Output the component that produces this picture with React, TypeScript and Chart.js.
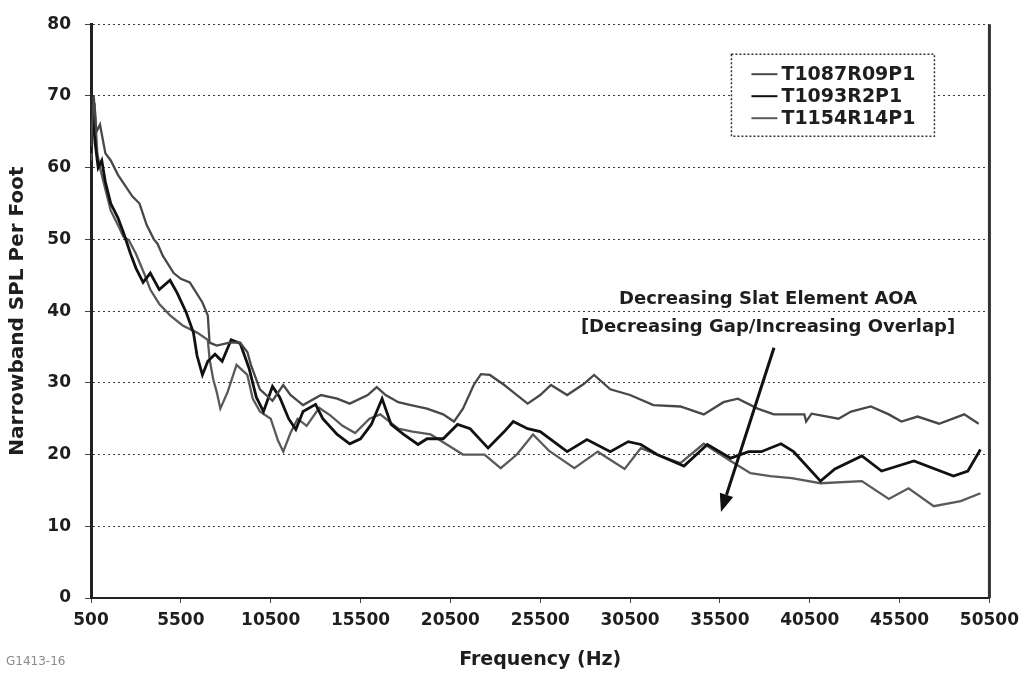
import { useEffect, useRef } from "react";
import { Chart, registerables } from "chart.js";

Chart.register(...registerables);

const FONT = "'DejaVu Sans', 'Liberation Sans', sans-serif";
const INK = "#1e1e1e";

// Frequency axis ticks (Hz) and SPL axis ticks (dB)
const freqTicks = [500, 5500, 10500, 15500, 20500, 25500, 30500, 35500, 40500, 45500, 50500];
const splTicks = [0, 10, 20, 30, 40, 50, 60, 70, 80];

const seriesNames = ["T1087R09P1", "T1093R2P1", "T1154R14P1"];

// [frequency Hz, narrowband SPL per foot]
const t1087: [number, number][] = [
  [500, 63], [650, 70], [800, 65], [1000, 66], [1300, 62], [1600, 61], [2000, 59], [2400, 57.5],
  [2800, 56], [3200, 55], [3600, 52], [4000, 50], [4200, 49.4], [4500, 47.7], [5100, 45.3],
  [5500, 44.5], [6000, 44], [6700, 41.2], [7000, 39.4], [7100, 35.6], [7500, 35.2], [8200, 35.6],
  [8800, 35.6], [9200, 34.3], [9400, 32.5], [9900, 29.1], [10600, 27.5], [11200, 29.7],
  [11600, 28.3], [12300, 26.9], [13300, 28.3], [14200, 27.8], [14900, 27.1], [15900, 28.3],
  [16400, 29.4], [16900, 28.3], [17600, 27.3], [18300, 26.9], [19200, 26.4], [20100, 25.6],
  [20700, 24.6], [21200, 26.4], [21800, 29.7], [22200, 31.2], [22700, 31.1], [23500, 29.7],
  [24100, 28.5], [24800, 27.1], [25500, 28.3], [26100, 29.7], [27000, 28.3], [27900, 29.8],
  [28500, 31.1], [29400, 29.1], [30500, 28.3], [31800, 26.9], [33300, 26.7], [34600, 25.6],
  [35700, 27.3], [36500, 27.8], [37600, 26.4], [38500, 25.6], [40200, 25.6], [40300, 24.6],
  [40600, 25.7], [42100, 25.0], [42800, 26.0], [43900, 26.7], [44900, 25.6], [45600, 24.6],
  [46500, 25.3], [47700, 24.3], [49100, 25.6], [49900, 24.3],
];

const t1093: [number, number][] = [
  [500, 62], [600, 68], [750, 63], [900, 60], [1100, 61], [1300, 58], [1600, 55], [2000, 53],
  [2300, 51], [2700, 48], [3000, 46], [3400, 44], [3800, 45.3], [4300, 43], [4900, 44.3],
  [5300, 42.5], [5800, 39.8], [6200, 37], [6400, 33.8], [6700, 31.1], [7000, 33], [7400, 34],
  [7800, 33], [8300, 36], [8800, 35.5], [9300, 32], [9700, 28], [10100, 26], [10600, 29.5],
  [11000, 28], [11500, 25], [11900, 23.5], [12300, 26], [13000, 27], [13400, 25], [14200, 22.8],
  [14900, 21.5], [15500, 22.2], [16100, 24.2], [16700, 27.8], [17200, 24.2], [17900, 22.8],
  [18700, 21.4], [19200, 22.2], [20100, 22.2], [20900, 24.2], [21600, 23.6], [22600, 20.9],
  [23500, 23.2], [24000, 24.6], [24800, 23.6], [25500, 23.2], [27000, 20.4], [28100, 22.1],
  [29400, 20.4], [30400, 21.8], [31100, 21.4], [32000, 20], [33500, 18.4], [34800, 21.4],
  [36100, 19.5], [37100, 20.4], [37800, 20.4], [38900, 21.5], [39600, 20.4], [41100, 16.3],
  [41900, 18], [43400, 19.8], [44500, 17.7], [46300, 19.1], [48500, 17], [49300, 17.7],
  [50000, 20.7],
];

const t1154: [number, number][] = [
  [500, 61], [600, 65], [700, 69], [850, 62], [1000, 60], [1300, 57], [1600, 54], [2000, 52],
  [2300, 50.4], [2600, 49.9], [3000, 48], [3500, 45], [3800, 43], [4300, 41], [4900, 39.4],
  [5600, 38], [6400, 37], [7000, 36], [7100, 33.3], [7300, 30.5], [7500, 28.7], [7700, 26.4],
  [8100, 28.7], [8600, 32.5], [9200, 31.1], [9500, 27.8], [9900, 26], [10500, 25], [10900, 22],
  [11200, 20.4], [11600, 23], [12000, 25], [12500, 24], [13200, 26.5], [13800, 25.5],
  [14500, 24], [15200, 23], [16000, 25], [16600, 25.6], [17600, 23.6], [18400, 23.2],
  [19400, 22.8], [20300, 21.4], [21200, 20], [22400, 20], [23300, 18.1], [24200, 20],
  [25100, 22.8], [26000, 20.5], [27400, 18.1], [28700, 20.4], [30200, 18], [31100, 20.9],
  [32200, 19.8], [33300, 18.8], [34600, 21.5], [36100, 19.1], [37200, 17.4], [38300, 17],
  [39500, 16.7], [41100, 16], [43400, 16.3], [44900, 13.8], [46000, 15.3], [47400, 12.8],
  [48900, 13.5], [50000, 14.6],
];

const seriesColors = ["#484848", "#111111", "#5a5a5a"];
const seriesWidths = [2.3, 2.8, 2.3];

// Annotation: text anchor and arrow, in data units
const noteLines = ["Decreasing Slat Element AOA", "[Decreasing Gap/Increasing Overlap]"];
const noteAnchor = { freq: 38180, spl: [41.6, 37.7] };
const arrowFrom = { freq: 38510, spl: 34.9 };
const arrowTo = { freq: 35560, spl: 12.0 };

const figureId = "G1413-16";

export default function App() {
  const canvasRef = useRef<HTMLCanvasElement | null>(null);

  useEffect(() => {
    const canvas = canvasRef.current;
    if (!canvas) return;

    const decorations = {
      id: "decorations",
      beforeDatasetsDraw(chart: any) {
        const { ctx, chartArea } = chart;
        ctx.save();
        ctx.strokeStyle = "#333";
        ctx.lineWidth = 3;
        ctx.beginPath();
        ctx.moveTo(chartArea.right, chartArea.top);
        ctx.lineTo(chartArea.right, chartArea.bottom);
        ctx.stroke();
        ctx.restore();
      },
      afterDraw(chart: any) {
        const { ctx, chartArea } = chart;
        const xs = chart.scales.x;
        const ys = chart.scales.y;
        ctx.save();

        // legend box
        const bx = chartArea.right - 258;
        const by = chartArea.top + 30;
        const bw = 203;
        const bh = 82;
        ctx.fillStyle = "#fff";
        ctx.fillRect(bx, by, bw, bh);
        ctx.setLineDash([2, 2]);
        ctx.strokeStyle = "#333";
        ctx.lineWidth = 1.5;
        ctx.strokeRect(bx, by, bw, bh);
        ctx.setLineDash([]);
        ctx.font = `bold 19px ${FONT}`;
        ctx.textBaseline = "middle";
        ctx.textAlign = "left";
        chart.data.datasets.forEach((ds: any, i: number) => {
          const yy = by + 20 + i * 22;
          ctx.strokeStyle = ds.borderColor;
          ctx.lineWidth = 2;
          ctx.beginPath();
          ctx.moveTo(bx + 20, yy);
          ctx.lineTo(bx + 46, yy);
          ctx.stroke();
          ctx.fillStyle = INK;
          ctx.fillText(ds.label, bx + 50, yy + 1);
        });

        // annotation text
        ctx.font = `bold 18px ${FONT}`;
        ctx.textAlign = "center";
        ctx.fillStyle = INK;
        const tx = xs.getPixelForValue(noteAnchor.freq);
        noteLines.forEach((line, i) => {
          ctx.fillText(line, tx, ys.getPixelForValue(noteAnchor.spl[i]));
        });

        // arrow
        const x1 = xs.getPixelForValue(arrowFrom.freq);
        const y1 = ys.getPixelForValue(arrowFrom.spl);
        const x2 = xs.getPixelForValue(arrowTo.freq);
        const y2 = ys.getPixelForValue(arrowTo.spl);
        const ang = Math.atan2(y2 - y1, x2 - x1);
        const head = 18;
        const hw = 7;
        const bxh = x2 - head * Math.cos(ang);
        const byh = y2 - head * Math.sin(ang);
        ctx.strokeStyle = "#111";
        ctx.lineWidth = 3;
        ctx.beginPath();
        ctx.moveTo(x1, y1);
        ctx.lineTo(bxh, byh);
        ctx.stroke();
        ctx.fillStyle = "#111";
        ctx.beginPath();
        ctx.moveTo(x2, y2);
        ctx.lineTo(bxh + hw * Math.sin(ang), byh - hw * Math.cos(ang));
        ctx.lineTo(bxh - hw * Math.sin(ang), byh + hw * Math.cos(ang));
        ctx.closePath();
        ctx.fill();

        // figure id
        ctx.font = `12px ${FONT}`;
        ctx.textAlign = "left";
        ctx.fillStyle = "#8a8a8a";
        ctx.fillText(figureId, 6, 662);

        ctx.restore();
      },
    };

    const series = [t1087, t1093, t1154];

    const chart = new Chart(canvas, {
      type: "line",
      data: {
        datasets: series.map((s, i) => ({
          label: seriesNames[i],
          data: s.map(([f, v]) => ({ x: f, y: v })),
          borderColor: seriesColors[i],
          backgroundColor: seriesColors[i],
          borderWidth: seriesWidths[i],
          pointRadius: 0,
          tension: 0,
          fill: false,
        })),
      },
      options: {
        animation: false,
        responsive: false,
        maintainAspectRatio: false,
        layout: { padding: { top: 18, right: 36, left: 0, bottom: 0 } },
        plugins: {
          legend: { display: false },
          tooltip: { enabled: false },
        },
        scales: {
          x: {
            type: "linear",
            min: 500,
            max: 50500,
            afterBuildTicks: (scale: any) => {
              scale.ticks = freqTicks.map((v) => ({ value: v }));
            },
            afterFit: (scale: any) => {
              scale.height = 77;
            },
            ticks: {
              autoSkip: false,
              maxRotation: 0,
              padding: 7,
              color: INK,
              font: { family: FONT, size: 17, weight: "bold" },
              callback: (v: any) => String(v),
            },
            grid: {
              drawOnChartArea: false,
              drawTicks: true,
              tickLength: 5,
              tickColor: "#444",
            },
            border: { display: true, color: "#222", width: 2 },
            title: {
              display: true,
              text: "Frequency (Hz)",
              color: INK,
              font: { family: FONT, size: 19, weight: "bold" },
              padding: { top: 0, bottom: 4 },
            },
          },
          y: {
            type: "linear",
            min: 0,
            max: 80,
            afterBuildTicks: (scale: any) => {
              scale.ticks = splTicks.map((v) => ({ value: v }));
            },
            afterFit: (scale: any) => {
              scale.width = 91;
            },
            ticks: {
              padding: 14,
              color: INK,
              font: { family: FONT, size: 17, weight: "bold" },
            },
            grid: {
              color: "#3c3c3c",
              lineWidth: 1,
              tickLength: 6,
              tickColor: "#444",
            },
            border: { display: true, color: "#222", width: 3, dash: [2, 3] },
            title: {
              display: true,
              text: "Narrowband SPL Per Foot",
              color: INK,
              font: { family: FONT, size: 20, weight: "bold" },
              padding: { top: 6, bottom: 0 },
            },
          },
        },
      },
      plugins: [decorations],
    });

    return () => chart.destroy();
  }, []);

  return (
    <div style={{ position: "fixed", left: 0, top: 0, width: 1026, height: 675, background: "#fff" }}>
      <canvas ref={canvasRef} width={1026} height={675} style={{ display: "block" }} />
    </div>
  );
}
